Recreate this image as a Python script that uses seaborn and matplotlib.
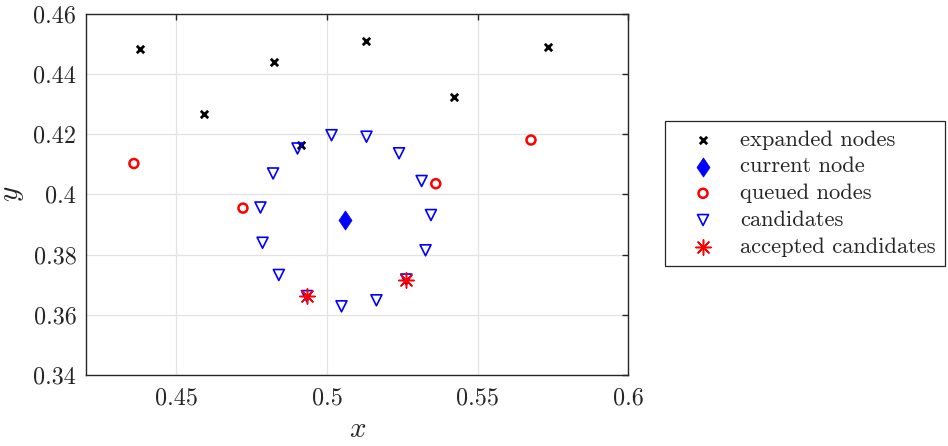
import matplotlib
matplotlib.use("Agg")
import matplotlib.pyplot as plt
import seaborn as sns
import numpy as np

# ---- data ----
expanded_x = [0.4378, 0.4591, 0.4823, 0.4915, 0.5129, 0.5422, 0.5735]
expanded_y = [0.4481, 0.4265, 0.4438, 0.4165, 0.4510, 0.4322, 0.4489]

current_x = [0.5060]
current_y = [0.3916]

queued_x = [0.4359, 0.4721, 0.5361, 0.5677]
queued_y = [0.4102, 0.3954, 0.4035, 0.4180]

cand_x = [0.5015, 0.5131, 0.5239, 0.5314, 0.5345, 0.5327, 0.5263, 0.5164,
          0.5048, 0.4933, 0.4840, 0.4786, 0.4779, 0.4821, 0.4902]
cand_y = [0.4196, 0.4191, 0.4136, 0.4044, 0.3931, 0.3814, 0.3717, 0.3648,
          0.3628, 0.3662, 0.3732, 0.3839, 0.3956, 0.4069, 0.4152]

acc_x = [0.4933, 0.5263]
acc_y = [0.3662, 0.3717]

x_ticks = [0.45, 0.5, 0.55, 0.6]
x_ticklabels = ["0.45", "0.5", "0.55", "0.6"]
y_ticks = [0.34, 0.36, 0.38, 0.40, 0.42, 0.44, 0.46]
y_ticklabels = ["0.34", "0.36", "0.38", "0.4", "0.42", "0.44", "0.46"]

labels = ["expanded nodes", "current node", "queued nodes", "candidates",
          "accepted candidates"]

# ---- style ----
sns.set_style("white")
plt.rcParams["font.family"] = ["serif"]
plt.rcParams["font.serif"] = ["cmr10", "DejaVu Serif"]
plt.rcParams["mathtext.fontset"] = "cm"
plt.rcParams["axes.formatter.use_mathtext"] = True

fig = plt.figure(figsize=(9.48, 4.46), dpi=100)
ax = fig.add_axes([86 / 948, (446 - 375) / 446, (628.3 - 86) / 948, (375 - 13.5) / 446])

diamond = [(0, 1), (0.68, 0), (0, -1), (-0.68, 0), (0, 1)]

sns.scatterplot(x=expanded_x, y=expanded_y, ax=ax, marker="x", s=28,
                color="black", linewidth=2.0, label=labels[0], zorder=3)
sns.scatterplot(x=current_x, y=current_y, ax=ax, marker=diamond, s=190,
                color="#0000ff", edgecolor="#0000ff", linewidth=0.5,
                label=labels[1], zorder=3)
sns.scatterplot(x=queued_x, y=queued_y, ax=ax, marker="o", s=42,
                facecolor="none", edgecolor="#ff0000", linewidth=1.8,
                label=labels[2], zorder=3)
sns.scatterplot(x=cand_x, y=cand_y, ax=ax, marker="v", s=62,
                facecolor="none", edgecolor="#0000ff", linewidth=1.2,
                label=labels[3], zorder=3)
sns.scatterplot(x=acc_x, y=acc_y, ax=ax, marker=(8, 2, 0), s=120,
                color="#ff0000", edgecolor="#ff0000", linewidth=1.1,
                label=labels[4], zorder=4)

ax.set_xlim(0.42, 0.6)
ax.set_ylim(0.34, 0.46)
ax.set_xticks(x_ticks)
ax.set_xticklabels(x_ticklabels)
ax.set_yticks(y_ticks)
ax.set_yticklabels(y_ticklabels)

ax.grid(True, color="#e3e3e3", linewidth=0.9)
ax.set_axisbelow(True)
for sp in ax.spines.values():
    sp.set_color("#262626")
    sp.set_linewidth(1.0)
    sp.set_visible(True)
ax.tick_params(direction="in", length=4, width=1.0, color="#262626",
               top=True, right=True, labelsize=17.4, pad=7,
               labelcolor="#262626")
ax.tick_params(axis="x", pad=9)

ax.set_xlabel("$x$", fontsize=21, color="#262626")
ax.set_ylabel("$y$", fontsize=21, color="#262626")
ax.xaxis.set_label_coords(0.5, -(430 - 375) / 361.5, transform=ax.transAxes)
ax.yaxis.set_label_coords(-(86 - 13) / 542.3, 0.5, transform=ax.transAxes)
ax.xaxis.label.set_va("center")
ax.yaxis.label.set_va("center")

leg = ax.legend(loc="upper left", bbox_to_anchor=(665 / 948, 1 - 121 / 446),
                bbox_transform=fig.transFigure, frameon=True, fancybox=False,
                edgecolor="#262626", framealpha=1, fontsize=16.2,
                borderpad=0.4, labelspacing=0.31, handletextpad=0.35,
                handlelength=2.58, borderaxespad=0)
leg.get_frame().set_linewidth(0.9)
for t in leg.get_texts():
    t.set_color("#262626")

fig.savefig("out.png", dpi=100)
